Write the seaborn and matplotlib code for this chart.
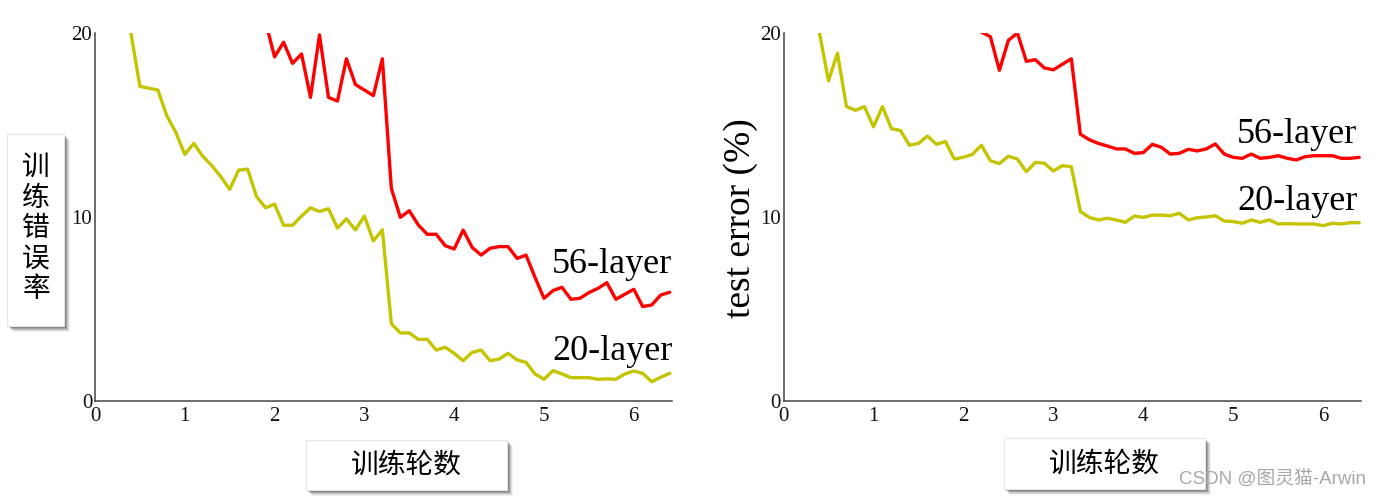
import numpy as np
import pandas as pd
import matplotlib
matplotlib.use("Agg")
import matplotlib.pyplot as plt
from matplotlib.patches import Rectangle
import seaborn as sns

# ---------------- data ----------------
train_20_x0 = 0.4
train_20 = [20.0, 17.1, 17.0, 16.9, 15.5, 14.6, 13.4, 14.0, 13.3, 12.8,
            12.2, 11.5, 12.55, 12.6, 11.1, 10.5, 10.7, 9.55, 9.55, 10.05,
            10.5, 10.3, 10.45, 9.4, 9.9, 9.3, 10.05, 8.7, 9.3, 4.2,
            3.7, 3.7, 3.35, 3.35, 2.77, 2.92, 2.59, 2.19, 2.64, 2.77,
            2.19, 2.28, 2.59, 2.23, 2.10, 1.47, 1.18, 1.65, 1.47, 1.27,
            1.27, 1.27, 1.18, 1.2, 1.18, 1.47, 1.63, 1.5, 1.05, 1.29, 1.5]
train_56_x0 = 1.9
train_56 = [20.6, 18.7, 19.5, 18.35, 18.86, 16.5, 19.9, 16.5, 16.3, 18.6,
            17.2, 16.9, 16.6, 18.6, 11.56, 9.98, 10.34, 9.57, 9.06, 9.06,
            8.44, 8.26, 9.29, 8.35, 7.93, 8.30, 8.39, 8.39, 7.75, 7.93,
            6.72, 5.58, 6.0, 6.18, 5.53, 5.58, 5.89, 6.12, 6.43, 5.53,
            5.80, 6.07, 5.13, 5.22, 5.76, 5.91]
test_20_x0 = 0.4
test_20 = [20.0, 17.4, 18.9, 16.0, 15.8, 16.0, 14.9, 16.0, 14.8, 14.7,
           13.9, 14.0, 14.4, 13.95, 14.1, 13.15, 13.25, 13.4, 13.9, 13.06,
           12.9, 13.3, 13.15, 12.46, 12.97, 12.92, 12.5, 12.79, 12.73, 10.3,
           9.98, 9.84, 9.93, 9.84, 9.71, 10.05, 9.98, 10.1, 10.1, 10.07,
           10.2, 9.84, 9.96, 10.0, 10.07, 9.78, 9.75, 9.66, 9.84, 9.71,
           9.84, 9.62, 9.64, 9.62, 9.62, 9.62, 9.53, 9.66, 9.62, 9.69, 9.69]
test_56_x0 = 2.2
test_56 = [20.05, 19.8, 17.97, 19.6, 20.0, 18.46, 18.55, 18.1, 18.0, 18.3,
           18.6, 14.5, 14.2, 14.0, 13.86, 13.7, 13.7, 13.46, 13.5, 13.95,
           13.79, 13.42, 13.46, 13.68, 13.59, 13.7, 13.97, 13.42, 13.24, 13.19,
           13.42, 13.19, 13.24, 13.33, 13.19, 13.1, 13.28, 13.33, 13.33, 13.33,
           13.19, 13.19, 13.24]
step = 0.1

x_ticks = [0, 1, 2, 3, 4, 5, 6]
y_ticks = [0, 10, 20]
series_labels = ["56-layer", "20-layer"]
left_ylabel = "训\n练\n错\n误\n率"
right_ylabel = "test error (%)"
xlabel = "训练轮数"
watermark = "CSDN @图灵猫-Arwin"

RED = "#ff0000"
YEL = "#c4c400"


def frame(x0, vals, name):
    xs = x0 + step * np.arange(len(vals))
    return pd.DataFrame({"epoch": xs, "err": vals, "model": name})


train_df = pd.concat([frame(train_56_x0, train_56, "56-layer"),
                      frame(train_20_x0, train_20, "20-layer")])
test_df = pd.concat([frame(test_56_x0, test_56, "56-layer"),
                     frame(test_20_x0, test_20, "20-layer")])

# ---------------- figure ----------------
sns.set_theme(style="white")
plt.rcParams["font.family"] = ["Liberation Serif", "DejaVu Serif"]
plt.rcParams["xtick.labelsize"] = 15
plt.rcParams["ytick.labelsize"] = 15

W, H = 1381, 497
fig = plt.figure(figsize=(W / 100, H / 100), dpi=100)


def fx(px):
    return px / W


def fy(py):
    return 1 - py / H


ax1 = fig.add_axes([fx(95), fy(401), fx(671.5) - fx(95), fy(33) - fy(401)])
ax2 = fig.add_axes([fx(783.5), fy(401), fx(1361) - fx(783.5), fy(33) - fy(401)])

for ax, df in ((ax1, train_df), (ax2, test_df)):
    sns.lineplot(data=df, x="epoch", y="err", hue="model",
                 palette={"56-layer": RED, "20-layer": YEL},
                 linewidth=2.4, ax=ax, legend=False, estimator=None, sort=False)
    ax.set_xlim(0, 6.42)
    ax.set_ylim(0, 20)
    ax.set_xticks(x_ticks)
    ax.set_yticks(y_ticks)
    ax.set_xlabel("")
    ax.set_ylabel("")
    for s in ("top", "right"):
        ax.spines[s].set_visible(False)
    for s in ("left", "bottom"):
        ax.spines[s].set_color("#444444")
        ax.spines[s].set_linewidth(1.1)
    ax.tick_params(axis="both", direction="in", length=4, width=1,
                   color="#444444", labelcolor="#111111")
    ax.tick_params(axis="x", pad=4)
    ax.tick_params(axis="y", pad=2)
    for lab in ax.get_xticklabels() + ax.get_yticklabels():
        lab.set_fontsize(15)
    ax.set_facecolor("white")

# series labels
ax1.text(6.43, 6.97, series_labels[0], ha="right", va="baseline", fontsize=26, color="black")
ax1.text(6.43, 2.23, series_labels[1], ha="right", va="baseline", fontsize=26, color="black")
ax2.text(6.38, 14.0, series_labels[0], ha="right", va="baseline", fontsize=26, color="black")
ax2.text(6.38, 10.38, series_labels[1], ha="right", va="baseline", fontsize=26, color="black")

# right y label
fig.text(fx(741), fy(218.5), right_ylabel, rotation=90, ha="center", va="center",
         fontsize=27, color="black")


def shadow_box(x0, y0, x1, y1):
    # shadow layers (px offsets)
    for k, a in ((6, 0.06), (5, 0.08), (4, 0.12), (3, 0.16), (2, 0.2)):
        fig.add_artist(Rectangle((fx(x0 + k), fy(y1 + k)), fx(x1 - x0), fy(y0) - fy(y1),
                                 transform=fig.transFigure, facecolor="black",
                                 edgecolor="none", alpha=a, zorder=5))
    fig.add_artist(Rectangle((fx(x0), fy(y1)), fx(x1 - x0), fy(y0) - fy(y1),
                             transform=fig.transFigure, facecolor="white",
                             edgecolor="#e6e6e6", linewidth=0.8, zorder=6))


cjk = ["Noto Sans CJK SC", "DejaVu Sans"]

shadow_box(7, 134, 64, 326)
fig.text(fx(36), fy(228), left_ylabel, ha="center", va="center", fontsize=20,
         linespacing=1.02, family=cjk, color="black", zorder=7)

shadow_box(306, 440, 507, 490)
fig.text(fx(406), fy(465), xlabel, ha="center", va="center", fontsize=20,
         family=cjk, color="black", zorder=7)

shadow_box(1004, 438, 1205, 489)
fig.text(fx(1104), fy(464), xlabel, ha="center", va="center", fontsize=20,
         family=cjk, color="black", zorder=7)

fig.text(fx(1366), fy(479), watermark, ha="right", va="center", fontsize=13.5,
         family=["Liberation Sans", "Noto Sans CJK SC"], color="#a8a8a8", zorder=8)

fig.savefig("out.png", dpi=100, facecolor="white")
